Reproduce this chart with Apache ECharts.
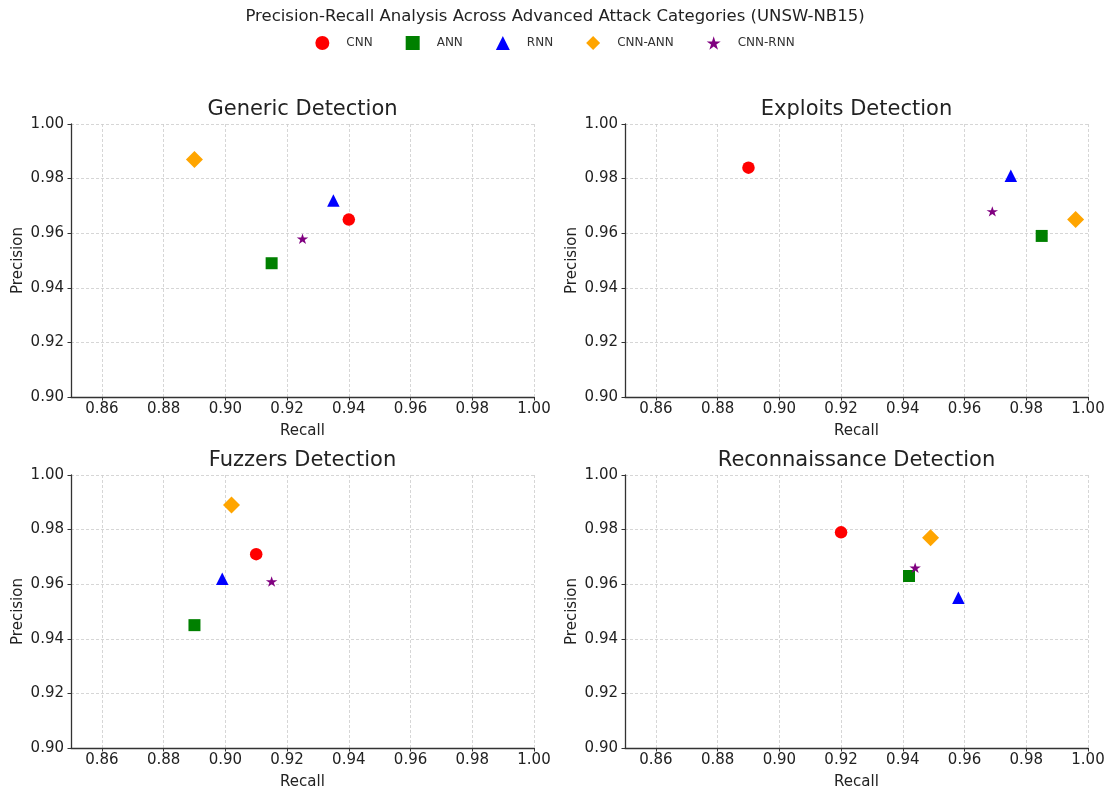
<!DOCTYPE html>
<html>
<head>
<meta charset="utf-8">
<title>Precision-Recall Analysis</title>
<script src="https://cdn.jsdelivr.net/npm/echarts@6/dist/echarts.min.js"></script>
<style>
  html, body { margin: 0; padding: 0; background: #fff; }
  #main { width: 1110px; height: 791px; }
</style>
</head>
<body>
<div id="main"></div>
<script>
// models and panels
var models = ['CNN', 'ANN', 'RNN', 'CNN-ANN', 'CNN-RNN'];
var panels = ['Generic Detection', 'Exploits Detection', 'Fuzzers Detection', 'Reconnaissance Detection'];

// recall / precision per model (same order as models)
var recallGeneric = [0.940, 0.915, 0.935, 0.890, 0.925];
var precisionGeneric = [0.965, 0.949, 0.972, 0.987, 0.958];

var recallExploits = [0.890, 0.985, 0.975, 0.996, 0.969];
var precisionExploits = [0.984, 0.959, 0.981, 0.965, 0.968];

var recallFuzzers = [0.910, 0.890, 0.899, 0.902, 0.915];
var precisionFuzzers = [0.971, 0.945, 0.962, 0.989, 0.961];

var recallRecon = [0.920, 0.942, 0.958, 0.949, 0.944];
var precisionRecon = [0.979, 0.963, 0.955, 0.977, 0.966];

// tick labels
var recallTicks = [0.86, 0.88, 0.90, 0.92, 0.94, 0.96, 0.98, 1.00];

var recallSets = [recallGeneric, recallExploits, recallFuzzers, recallRecon];
var precisionSets = [precisionGeneric, precisionExploits, precisionFuzzers, precisionRecon];

var dom = document.getElementById('main');
var myChart = echarts.init(dom);

var starPath = 'path://M50 0 L61.23 34.55 L97.55 34.55 L68.17 55.9 L79.39 90.45 L50 69.1 L20.61 90.45 L31.83 55.9 L2.45 34.55 L38.77 34.55 Z';

// marker styles
var markers = {
    'CNN':     { symbol: 'circle',   size: 12.5,       color: '#ff0000' },
    'ANN':     { symbol: 'rect',     size: 12,         color: '#008000' },
    'RNN':     { symbol: 'triangle', size: 12.5,       color: '#0000ff' },
    'CNN-ANN': { symbol: 'diamond',  size: 17,         color: '#ffa500' },
    'CNN-RNN': { symbol: starPath,   size: [11.5, 11], color: '#800080' }
};

// panel boxes [left, top]
var boxes = [[71, 124], [625, 124], [71, 475], [625, 475]];
var boxW = 463, boxH = 273;
var fontFam = 'DejaVu Sans';

var grids = [], xAxes = [], yAxes = [], titles = [], series = [];

titles.push({
    text: 'Precision-Recall Analysis Across Advanced Attack Categories (UNSW-NB15)',
    left: 'center',
    top: 8,
    padding: 0,
    textStyle: { fontSize: 16.5, fontWeight: 'normal', color: '#222', fontFamily: fontFam }
});

boxes.forEach(function (b, i) {
    grids.push({ left: b[0], top: b[1], width: boxW, height: boxH, containLabel: false });

    titles.push({
        text: panels[i],
        left: b[0] + boxW / 2,
        top: b[1] - 25,
        textAlign: 'center',
        padding: 0,
        textStyle: { fontSize: 21, fontWeight: 'normal', color: '#222', fontFamily: fontFam }
    });

    xAxes.push({
        gridIndex: i,
        type: 'value',
        min: 0.85,
        max: 1.0,
        name: 'Recall',
        nameLocation: 'middle',
        nameGap: 27,
        nameTextStyle: { fontSize: 15, color: '#222', fontFamily: fontFam },
        axisLine: { show: true, onZero: false, lineStyle: { color: '#333', width: 1.3 } },
        axisTick: { show: true, length: 3.5, customValues: recallTicks, lineStyle: { color: '#333' } },
        axisLabel: {
            customValues: recallTicks,
            fontSize: 15, color: '#222', fontFamily: fontFam, margin: 5,
            formatter: function (v) { return v.toFixed(2); }
        },
        splitLine: { show: true, lineStyle: { color: '#cccccc', width: 0.8, type: [3, 2] } }
    });

    yAxes.push({
        gridIndex: i,
        type: 'value',
        min: 0.9,
        max: 1.0,
        interval: 0.02,
        name: 'Precision',
        nameLocation: 'middle',
        nameGap: 45,
        nameTextStyle: { fontSize: 15, color: '#222', fontFamily: fontFam },
        axisLine: { show: true, onZero: false, lineStyle: { color: '#333', width: 1.3 } },
        axisTick: { show: true, length: 3.5, lineStyle: { color: '#333' } },
        axisLabel: {
            fontSize: 15, color: '#222', fontFamily: fontFam, margin: 7,
            formatter: function (v) { return v.toFixed(2); }
        },
        splitLine: { show: true, lineStyle: { color: '#cccccc', width: 0.8, type: [3, 2] } }
    });

    models.forEach(function (m, k) {
        var mk = markers[m];
        series.push({
            name: m,
            type: 'scatter',
            xAxisIndex: i,
            yAxisIndex: i,
            symbol: mk.symbol,
            symbolSize: mk.size,
            symbolKeepAspect: true,
            itemStyle: { color: mk.color, opacity: 1 },
            data: [[recallSets[i][k], precisionSets[i][k]]]
        });
    });
});

var option = {
    backgroundColor: '#ffffff',
    animation: false,
    title: titles,
    legend: {
        data: models,
        top: 36,
        left: 'center',
        padding: 0,
        itemWidth: 14,
        itemHeight: 14,
        itemGap: 33,
        symbolKeepAspect: true,
        textStyle: { fontSize: 12, color: '#333', fontFamily: fontFam, padding: [0, 0, 0, 12] }
    },
    grid: grids,
    xAxis: xAxes,
    yAxis: yAxes,
    series: series
};

if (option && typeof option === 'object') {
    myChart.setOption(option);
}
</script>
</body>
</html>
